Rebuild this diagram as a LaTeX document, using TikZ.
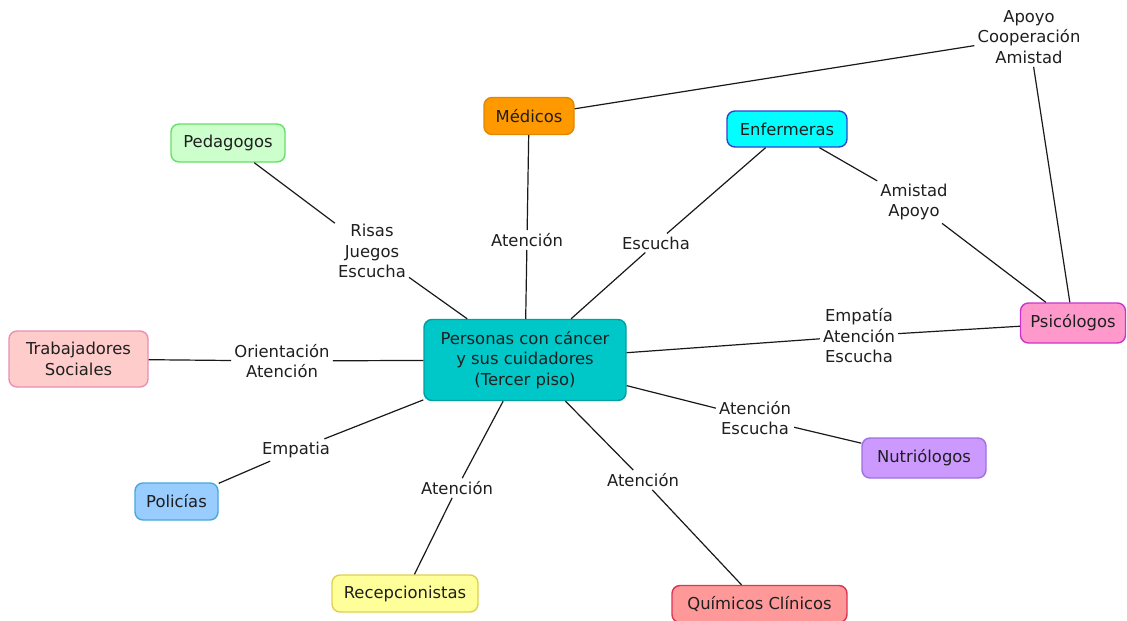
\documentclass[tikz,border=0pt]{standalone}
\usepackage{fontspec}
\setmainfont{DejaVu Sans}
\begin{document}
\begin{tikzpicture}[x=1pt,y=-1pt,
  every node/.style={font=\fontsize{16.4}{20.5}\selectfont, text=black!88, align=center},
  box/.style={draw, rounded corners=8pt, line width=1.4pt, inner sep=0pt, minimum height=37pt},
  tag/.style={inner sep=3pt, fill=white},
  link/.style={line width=1.2pt, black!90}]
\useasboundingbox (0,0) rectangle (1127,621);
\fill[white] (0,0) rectangle (1127,621);

\definecolor{cenF}{RGB}{0,200,200}\definecolor{cenD}{RGB}{0,160,160}
\definecolor{medF}{RGB}{255,153,0}\definecolor{medD}{RGB}{224,136,0}
\definecolor{pedF}{RGB}{204,255,204}\definecolor{pedD}{RGB}{102,224,102}
\definecolor{enfF}{RGB}{0,255,255}\definecolor{enfD}{RGB}{51,68,204}
\definecolor{traF}{RGB}{255,204,204}\definecolor{traD}{RGB}{232,144,176}
\definecolor{psiF}{RGB}{255,153,204}\definecolor{psiD}{RGB}{204,51,204}
\definecolor{nutF}{RGB}{204,153,255}\definecolor{nutD}{RGB}{160,112,224}
\definecolor{polF}{RGB}{153,204,255}\definecolor{polD}{RGB}{68,170,221}
\definecolor{recF}{RGB}{255,255,153}\definecolor{recD}{RGB}{224,208,80}
\definecolor{quiF}{RGB}{255,153,153}\definecolor{quiD}{RGB}{221,51,85}

% concept boxes
\node[box, fill=cenF, draw=cenD, minimum width=202pt, minimum height=81pt] (cen) at (525,360) {Personas con cáncer\\y sus cuidadores\\(Tercer piso)};
\node[box, fill=medF, draw=medD, minimum width=90pt] (med) at (529,116) {Médicos};
\node[box, fill=pedF, draw=pedD, minimum width=114pt, minimum height=38pt] (ped) at (228,143) {Pedagogos};
\node[box, fill=enfF, draw=enfD, minimum width=120pt, minimum height=36pt] (enf) at (787,129) {Enfermeras};
\node[box, fill=traF, draw=traD, minimum width=139pt, minimum height=56pt] (tra) at (78.5,359) {Trabajadores\\Sociales};
\node[box, fill=psiF, draw=psiD, minimum width=105pt, minimum height=40pt] (psi) at (1073,323) {Psicólogos};
\node[box, fill=nutF, draw=nutD, minimum width=124pt, minimum height=40pt] (nut) at (924,458) {Nutriólogos};
\node[box, fill=polF, draw=polD, minimum width=83pt] (pol) at (176.5,501.5) {Policías};
\node[box, fill=recF, draw=recD, minimum width=146pt] (rec) at (405,593.5) {Recepcionistas};
\node[box, fill=quiF, draw=quiD, minimum width=175pt] (qui) at (759.5,604) {Químicos Clínicos};

% link labels
\node[tag] (lApo) at (1029,37) {Apoyo\\Cooperación\\Amistad};
\node[tag] (lRis) at (372,251) {Risas\\Juegos\\Escucha};
\node[tag] (lMed) at (527,240) {Atención};
\node[tag] (lEsc) at (656,243) {Escucha};
\node[tag] (lAmi) at (914,202) {Amistad\\Apoyo};
\node[tag] (lOri) at (282,361) {Orientación\\Atención};
\node[tag] (lEmp) at (859,336) {Empatía\\Atención\\Escucha};
\node[tag] (lNut) at (755,418) {Atención\\Escucha};
\node[tag] (lPol) at (296,450) {Empatia};
\node[tag] (lRec) at (457,488) {Atención};
\node[tag] (lQui) at (643,480) {Atención};

% connectors
\draw[link] (med) -- (lApo) -- (psi);
\draw[link] (cen) -- (lRis) -- (ped);
\draw[link] (cen) -- (lMed) -- (med);
\draw[link] (cen) -- (lEsc) -- (enf);
\draw[link] (enf) -- (lAmi) -- (psi);
\draw[link] (cen) -- (lOri) -- (tra);
\draw[link] (cen) -- (lEmp) -- (psi);
\draw[link] (cen) -- (lNut) -- (nut);
\draw[link] (cen) -- (lPol) -- (pol);
\draw[link] (cen) -- (lRec) -- (rec);
\draw[link] (cen) -- (lQui) -- (qui);
\end{tikzpicture}
\end{document}
